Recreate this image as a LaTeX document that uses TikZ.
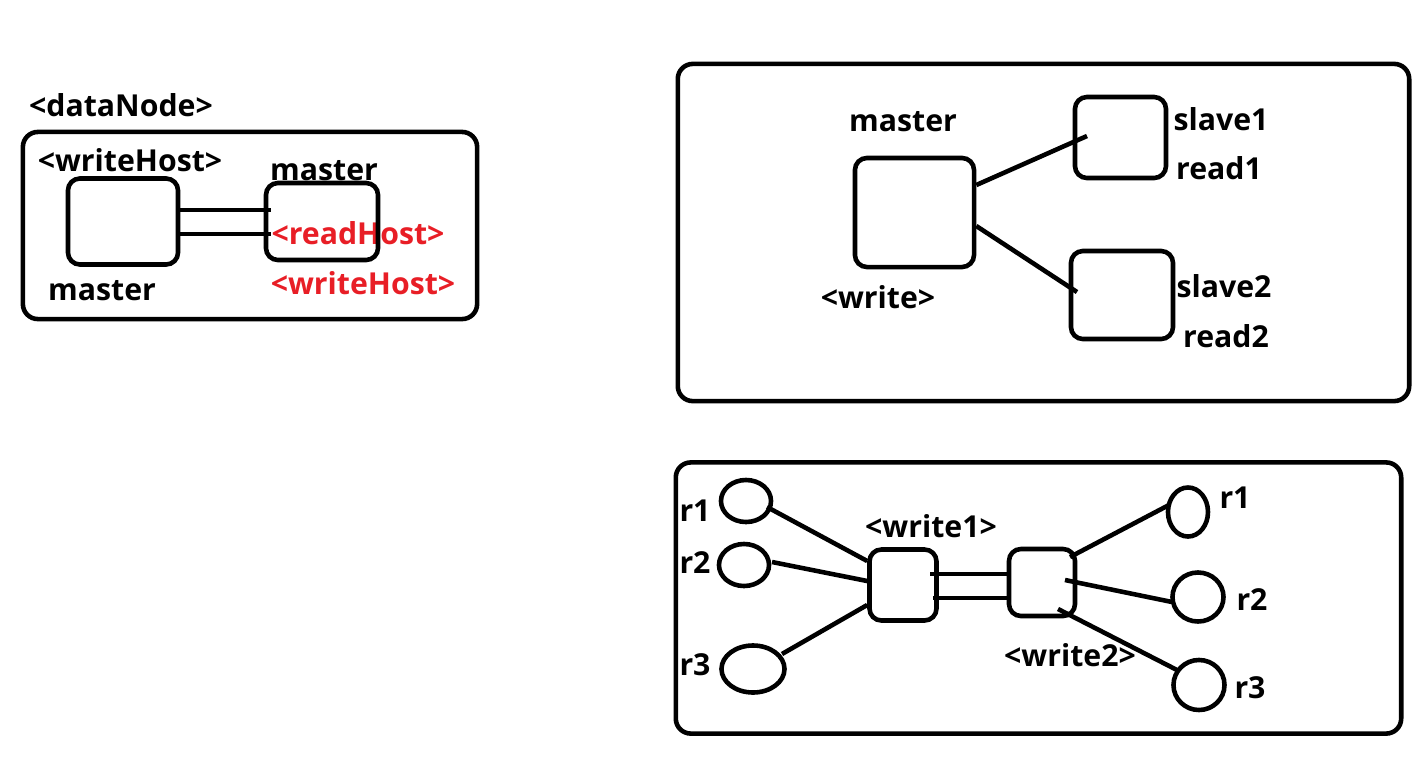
\documentclass[tikz,border=0pt]{standalone}
\usepackage{fontspec}
\setmainfont{Open Sans}
\usetikzlibrary{shapes.geometric}
\definecolor{txtred}{RGB}{232,30,38}
\tikzset{
  every picture/.style={line width=1.3pt},
  panel/.style={draw, rounded corners=0.15cm, line width=1.3pt},
  box/.style={draw, rounded corners=0.12cm, inner sep=0pt, line width=1.3pt},
  oval/.style={draw, ellipse, inner sep=0pt, line width=1.3pt},
  lbl/.style={inner sep=0pt, font=\fontsize{8.6}{10}\selectfont\bfseries},
  redlbl/.style={lbl, text=txtred},
  conn/.style={line width=1.3pt}
}
\begin{document}
\begin{tikzpicture}[x=0.01cm, y=-0.01cm]
\useasboundingbox (0,0) rectangle (1426,772);

% ---------------- panel 1 ----------------
\node[panel, minimum width=4.54cm, minimum height=1.87cm] (p1) at (250,225.5) {};
\node[lbl] (t1) at (121,105) {<dataNode>};
\node[lbl] (t2) at (130,160) {<writeHost>};
\node[lbl] (t3) at (324,171) {master};
\node[redlbl] (t4) at (358,233) {<readHost>};
\node[redlbl] (t5) at (363,283) {<writeHost>};
\node[lbl] (t6) at (102,291) {master};
\node[box, minimum width=1.10cm, minimum height=0.86cm] (wh) at (123,221.5) {};
\node[box, minimum width=1.12cm, minimum height=0.77cm] (rh) at (322,221.5) {};
\coordinate (a1) at (271,210);
\coordinate (a2) at (271,234);
\draw[conn] (wh.east |- a1) -- (a1);
\draw[conn] (wh.east |- a2) -- (a2);

% ---------------- panel 2 ----------------
\node[panel, minimum width=7.31cm, minimum height=3.37cm] (p2) at (1043.5,232.5) {};
\node[box, minimum width=1.19cm, minimum height=1.09cm] (m) at (914.5,212.5) {};
\node[box, minimum width=0.91cm, minimum height=0.81cm] (s1) at (1120.5,137.5) {};
\node[box, minimum width=1.02cm, minimum height=0.88cm] (s2) at (1122,295) {};
\node[lbl] (t7) at (903,122) {master};
\node[lbl] (t8) at (878,297) {<write>};
\node[lbl] (t9) at (1221,119) {slave1};
\node[lbl] (t10) at (1219,168) {read1};
\node[lbl] (t11) at (1224,286) {slave2};
\node[lbl] (t12) at (1226,336) {read2};
\coordinate (c1) at (1087,136);
\coordinate (c2) at (1077,292);
\draw[conn] (m.east |- 0,185) -- (c1);
\draw[conn] (m.east |- 0,226) -- (c2);

% ---------------- panel 3 ----------------
\node[panel, minimum width=7.25cm, minimum height=2.71cm] (p3) at (1038.5,598) {};
\node[box, minimum width=0.67cm, minimum height=0.71cm] (w1) at (903,585) {};
\node[box, minimum width=0.66cm, minimum height=0.67cm] (w2) at (1042,582.5) {};
\node[lbl] (t13) at (931,526) {<write1>};
\node[lbl] (t14) at (1070,655) {<write2>};

\node[oval, minimum width=0.50cm, minimum height=0.42cm] (l1) at (746,501) {};
\node[oval, minimum width=0.50cm, minimum height=0.42cm] (l2) at (744,565) {};
\node[oval, minimum width=0.63cm, minimum height=0.47cm] (l3) at (753,669) {};
\node[oval, minimum width=0.40cm, minimum height=0.49cm] (r1) at (1188,512) {};
\node[oval, minimum width=0.51cm, minimum height=0.49cm] (r2) at (1198,597) {};
\node[oval, minimum width=0.51cm, minimum height=0.50cm] (r3) at (1199,685) {};

\node[lbl] (t15) at (695,511) {r1};
\node[lbl] (t16) at (695,563) {r2};
\node[lbl] (t17) at (695,665) {r3};
\node[lbl] (t18) at (1235,498) {r1};
\node[lbl] (t19) at (1252,600) {r2};
\node[lbl] (t20) at (1250,688) {r3};

\coordinate (e1) at (767,507);
\coordinate (e2) at (772,562);
\coordinate (e3) at (782,654);
\coordinate (f1) at (1169,505);
\coordinate (f2) at (1172,602);
\coordinate (f3) at (1177,670);
\coordinate (g1) at (1070,557);
\coordinate (g2) at (1065,580);
\coordinate (g3) at (1058,609);
\draw[conn] (e1) -- (w1.west |- 0,561);
\draw[conn] (e2) -- (w1.west |- 0,581);
\draw[conn] (e3) -- (w1.west |- 0,605);
\draw[conn] (g1) -- (f1);
\draw[conn] (g2) -- (f2);
\draw[conn] (g3) -- (f3);
\coordinate (d1) at (930,574);
\coordinate (d2) at (933,598);
\draw[conn] (d1) -- (w2.west |- d1);
\draw[conn] (d2) -- (w2.west |- d2);
\end{tikzpicture}
\end{document}
